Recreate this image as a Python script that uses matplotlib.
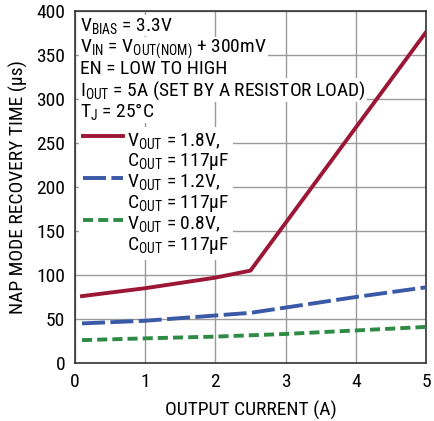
import matplotlib
matplotlib.use("Agg")
import matplotlib.pyplot as plt
from matplotlib import font_manager
from matplotlib.legend_handler import HandlerLine2D

# pick a condensed sans font if available
cands = [(f.name, f.stretch, f.style, f.weight) for f in font_manager.fontManager.ttflist]
fam, stretch = "Liberation Sans", "normal"
names = {c[0] for c in cands}
if "Liberation Sans Narrow" in names:
    fam, stretch = "Liberation Sans Narrow", "normal"
else:
    for pref in ["Liberation Sans", "Roboto Condensed", "Roboto", "Open Sans", "Noto Sans", "DejaVu Sans"]:
        hit = [c for c in cands if c[0] == pref and str(c[1]) in ("condensed", "semi-condensed", "extra-condensed", "75", "87.5")
               and c[2] == 'normal']
        if hit:
            fam, stretch = pref, "condensed"
            break
        if pref == "Roboto Condensed" and pref in names:
            fam, stretch = pref, "normal"
            break

plt.rcParams['font.family'] = [fam, 'DejaVu Sans']
plt.rcParams['font.stretch'] = stretch
plt.rcParams['mathtext.fontset'] = 'custom'
spec = fam if stretch == "normal" else fam + ":stretch=condensed"
plt.rcParams['mathtext.rm'] = spec
plt.rcParams['mathtext.it'] = spec
plt.rcParams['mathtext.bf'] = spec

x_red = [0.1, 1, 2, 2.5, 5]
y_red = [76, 85, 97, 105, 376]
x_blue = [0.1, 1, 2, 2.5, 3, 4, 5]
y_blue = [45, 48, 54, 57, 63, 75, 86]
x_green = [0.1, 1, 2, 3, 4, 5]
y_green = [26, 28, 30, 33, 37, 41]

labels = ["$\\mathrm{V_{OUT}}$ = 1.8V,\n$\\mathrm{C_{OUT}}$ = 117µF",
          "$\\mathrm{V_{OUT}}$ = 1.2V,\n$\\mathrm{C_{OUT}}$ = 117µF",
          "$\\mathrm{V_{OUT}}$ = 0.8V,\n$\\mathrm{C_{OUT}}$ = 117µF"]
notes = ["$\\mathrm{V_{BIAS}}$ = 3.3V",
         "$\\mathrm{V_{IN}}$ = $\\mathrm{V_{OUT(NOM)}}$ + 300mV",
         "EN = LOW TO HIGH",
         "$\\mathrm{I_{OUT}}$ = 5A (SET BY A RESISTOR LOAD)",
         "$\\mathrm{T_J}$ = 25°C"]

FS = 14


class HandlerTop(HandlerLine2D):
    def create_artists(self, legend, orig_handle, xdescent, ydescent, width, height, fontsize, trans):
        arts = super().create_artists(legend, orig_handle, xdescent, ydescent, width, height, fontsize, trans)
        for a in arts:
            yd = a.get_ydata()
            a.set_ydata([v + fontsize * 0.8 for v in yd])
        return arts


fig = plt.figure(figsize=(4.34, 4.21), dpi=100)
ax = fig.add_axes([75/434, 58/421, 351/434, 352/421])
ax.plot(x_red, y_red, color='#9c1636', lw=2.8, label=labels[0], zorder=3)
ax.plot(x_blue, y_blue, color='#3a5aa8', lw=2.8, dashes=(5.9, 1.4), label=labels[1], zorder=3)
ax.plot(x_green, y_green, color='#2e8b45', lw=2.8, dashes=(2.6, 1.3), label=labels[2], zorder=3)
ax.set_xlim(0, 5)
ax.set_ylim(0, 400)
ax.set_xticks(range(0, 6))
ax.set_yticks(range(0, 401, 50))
ax.grid(True, color='#9a9a9a', lw=1)
ax.tick_params(length=0, labelsize=FS, pad=7)
for s in ax.spines.values():
    s.set_color('#333333')
    s.set_linewidth(1.2)
ax.set_xlabel("OUTPUT CURRENT (A)", fontsize=FS, labelpad=7)
ax.set_ylabel("NAP MODE RECOVERY TIME (µs)", fontsize=FS, labelpad=6)

for i, t in enumerate(notes):
    ax.text(0.015, 0.944 - i * 0.0612, t, transform=ax.transAxes, fontsize=FS,
            va='baseline', ha='left', zorder=4, linespacing=1.0,
            bbox=dict(facecolor='white', edgecolor='none', pad=0.5))
leg = ax.legend(loc='upper left', bbox_to_anchor=(0.0, 0.682), frameon=True,
                fontsize=FS, handlelength=2.05, handletextpad=0.2,
                labelspacing=0.0, borderaxespad=0.2, borderpad=0.2,
                handler_map={plt.Line2D: HandlerTop()})
for t in leg.get_texts():
    t.set_linespacing(1.05)
leg.get_frame().set_edgecolor('none')
leg.get_frame().set_facecolor('white')
leg.get_frame().set_alpha(1)
fig.savefig("out.png", dpi=100)
